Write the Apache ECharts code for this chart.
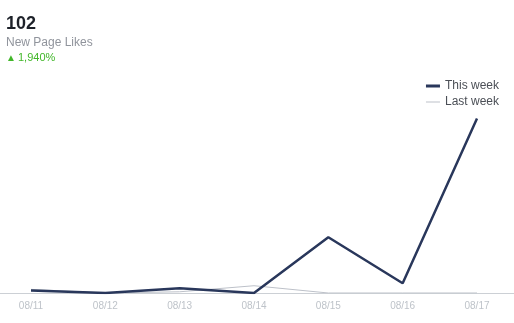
<!DOCTYPE html>
<html><head><meta charset="utf-8">
<script src="https://cdn.jsdelivr.net/npm/echarts@6/dist/echarts.min.js"></script>
<style>html,body{margin:0;padding:0;background:#fff}#c{width:514px;height:323px}</style>
</head><body><div id="c"></div>
<script>
const categories = ['08/11','08/12','08/13','08/14','08/15','08/16','08/17'];
const thisWeek = [1, 0, 2, 0, 23, 4, 72];
const lastWeek = [1.5, 0, 0.5, 3, 0, 0, 0];
const headline = '102';
const subtitle = 'New Page Likes';
const change = '1,940%';

const chart = echarts.init(document.getElementById('c'));
chart.setOption({
  animation: false,
  textStyle: { fontFamily: 'Liberation Sans, Arial, sans-serif' },
  graphic: [
    { type: 'text', left: 6, top: 15, style: { text: headline, font: 'bold 18px Liberation Sans', fill: '#1d2129' } },
    { type: 'text', left: 6, top: 37, style: { text: subtitle, font: '12px Liberation Sans', fill: '#90949c' } },
    { type: 'text', left: 6, top: 53, style: { text: '▲', font: '10px Liberation Sans', fill: '#42b72a' } },
    { type: 'text', left: 18, top: 52, style: { text: change, font: '11px Liberation Sans', fill: '#42b72a' } },
    { type: 'line', shape: { x1: 0, y1: 293.5, x2: 514, y2: 293.5 }, style: { stroke: '#ccd0d5', lineWidth: 1 }, z: 0 }
  ],
  legend: {
    orient: 'vertical', right: 10, top: 75, itemGap: 4, itemWidth: 14, itemHeight: 8,
    textStyle: { color: '#4b4f56', fontSize: 12 },
    data: [
      { name: 'This week', icon: 'path://M0,0L0,8ZM0,2.5H14V5.5H0Z' },
      { name: 'Last week', icon: 'path://M0,0L0,8ZM0,3.5H14V4.5H0Z' }
    ]
  },
  grid: { left: 31, right: 37, top: 99, bottom: 30 },
  xAxis: {
    type: 'category', data: categories, boundaryGap: false,
    axisLine: { show: false },
    axisTick: { show: false },
    axisLabel: { color: '#bec3c9', fontSize: 10, margin: 8 }
  },
  yAxis: { type: 'value', min: 0, max: 80, show: false, splitLine: { show: false } },
  series: [
    { name: 'Last week', type: 'line', data: lastWeek, symbol: 'none', z: 1,
      lineStyle: { color: '#bdc1c9', width: 1 }, itemStyle: { color: '#bdc1c9' } },
    { name: 'This week', type: 'line', data: thisWeek, symbol: 'none', z: 2,
      lineStyle: { color: '#29375b', width: 2.5 }, itemStyle: { color: '#29375b' } }
  ]
});
</script></body></html>
